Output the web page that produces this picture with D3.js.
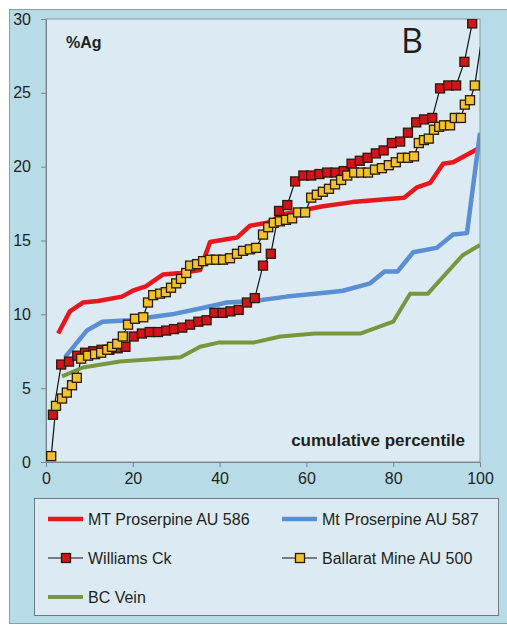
<!DOCTYPE html>
<html>
<head>
<meta charset="utf-8">
<script src="https://cdn.jsdelivr.net/npm/d3@7"></script>
<style>
  body { margin: 0; background: #fff; }
  text { font-family: "Liberation Sans", Arial, sans-serif; fill: #1f1f1f; }
</style>
</head>
<body>
<svg id="chart"></svg>
<script>
// cumulative percentile (x) and %Ag (y)
const mt586Pct = [2.8, 5.5, 8.5, 12, 17.5, 20, 23, 27, 31, 35.5, 37.8, 44, 47, 51, 55, 63.5, 70.6, 82.5, 85.5, 88.5, 91.5, 93.8, 98.8, 100];
const mt586Val = [8.7, 10.2, 10.8, 10.9, 11.2, 11.6, 11.9, 12.7, 12.8, 13.0, 14.9, 15.2, 16.0, 16.2, 16.8, 17.3, 17.6, 17.9, 18.6, 18.9, 20.2, 20.3, 21.1, 21.3];

const mt587Pct = [4.4, 9.4, 13, 19.4, 24, 29, 35.5, 41.7, 47.7, 55.5, 65.4, 68.4, 74.7, 78, 81, 84.6, 90, 93.8, 97, 100];
const mt587Val = [7.1, 8.9, 9.5, 9.6, 9.8, 10.0, 10.4, 10.8, 10.9, 11.2, 11.5, 11.6, 12.1, 12.9, 12.9, 14.2, 14.5, 15.4, 15.5, 22.3];

const bcPct = [3.7, 8.5, 17, 31, 35.5, 40, 48, 54, 62, 72.4, 80, 83.9, 88, 96, 100];
const bcVal = [5.8, 6.4, 6.8, 7.1, 7.8, 8.1, 8.1, 8.5, 8.7, 8.7, 9.5, 11.4, 11.4, 14.0, 14.7];

const williamsPct = [1.6, 3.5, 5.3, 7.2, 9.0, 10.9, 12.8, 14.6, 16.5, 18.3, 20.2, 22.1, 23.9, 25.8, 27.7, 29.5, 31.4, 33.2, 35.1, 37.0,
  38.8, 40.7, 42.5, 44.4, 46.3, 48.1, 50.0, 51.8, 53.7, 55.6, 57.4, 59.3, 61.1, 63.0, 64.8, 66.7, 68.6, 70.4, 72.3, 74.1,
  76.0, 77.8, 79.7, 81.6, 83.4, 85.3, 87.1, 89.0, 90.8, 92.7, 94.5, 96.4, 98.2];
const williamsVal = [3.2, 6.6, 6.8, 7.2, 7.4, 7.5, 7.6, 7.6, 7.7, 7.8, 8.5, 8.7, 8.8, 8.8, 8.9, 9.0, 9.1, 9.3, 9.5, 9.6,
  10.1, 10.1, 10.2, 10.3, 10.8, 11.1, 13.3, 14.1, 17.0, 17.4, 19.0, 19.4, 19.4, 19.5, 19.6, 19.6, 19.7, 20.2, 20.4, 20.6,
  20.9, 21.1, 21.6, 21.7, 22.3, 23.0, 23.2, 23.3, 25.3, 25.5, 25.5, 27.1, 29.7];

const ballaratPct = [1.2, 2.3, 3.7, 4.8, 6.0, 7.1, 8.1, 9.7, 11.3, 12.7, 14.1, 15.2, 16.4, 17.7, 18.9, 20.5, 22.4, 23.5, 24.7, 26.3,
  27.6, 28.8, 30.0, 31.1, 32.3, 33.2, 34.8, 36.2, 37.8, 39.2, 40.8, 42.4, 44.0, 45.4, 47.0, 48.4, 50.0, 51.2, 52.5, 53.9,
  55.3, 56.7, 58.1, 59.7, 61.1, 62.4, 63.8, 65.2, 66.6, 68.0, 69.4, 71.0, 72.6, 74.2, 75.8, 77.4, 79.0, 80.6, 82.0, 83.4,
  84.8, 85.9, 87.1, 88.2, 89.4, 90.6, 91.7, 93.1, 94.2, 95.6, 96.5, 97.7, 98.8, 100.8];
const ballaratVal = [0.4, 3.8, 4.3, 4.7, 5.2, 5.7, 7.0, 7.2, 7.3, 7.4, 7.6, 7.8, 8.0, 8.5, 9.3, 9.7, 9.8, 10.8, 11.3, 11.4,
  11.5, 11.8, 12.1, 12.4, 12.8, 13.3, 13.4, 13.6, 13.7, 13.7, 13.7, 13.8, 14.1, 14.3, 14.4, 14.5, 15.4, 15.9, 16.2, 16.3,
  16.4, 16.5, 16.9, 16.9, 17.9, 18.1, 18.3, 18.5, 18.8, 19.1, 19.4, 19.6, 19.6, 19.6, 19.8, 19.9, 20.1, 20.3, 20.6, 20.6,
  20.7, 21.6, 21.8, 21.9, 22.5, 22.7, 22.8, 22.8, 23.3, 23.3, 24.2, 24.5, 25.5, 29.5];

const xTicks = [0, 20, 40, 60, 80, 100];
const yTicks = [0, 5, 10, 15, 20, 25, 30];

const series = [
  { name: "MT Proserpine AU 586", pct: mt586Pct, val: mt586Val, color: "#e8161d", width: 4.5 },
  { name: "Mt Proserpine AU 587", pct: mt587Pct, val: mt587Val, color: "#5b8fd3", width: 4.5 },
  { name: "Williams Ck", pct: williamsPct, val: williamsVal, color: "#111", width: 1.2, marker: "#d4121b" },
  { name: "Ballarat Mine AU 500", pct: ballaratPct, val: ballaratVal, color: "#111", width: 1.2, marker: "#f2c12e" },
  { name: "BC Vein", pct: bcPct, val: bcVal, color: "#77963d", width: 4 }
];

const W = 507, H = 625;
const plot = { left: 46, right: 480, top: 19, bottom: 462 };

const svg = d3.select("#chart").attr("width", W).attr("height", H);

// chart frame
svg.append("rect")
  .attr("x", 9.5).attr("y", 9.5)
  .attr("width", W).attr("height", 614)
  .attr("fill", "#b8dce7").attr("stroke", "#8c9ea5");

// plot area
svg.append("rect")
  .attr("x", plot.left).attr("y", plot.top)
  .attr("width", plot.right - plot.left).attr("height", plot.bottom - plot.top)
  .attr("fill", "#dcebf3").attr("stroke", "#8a959a");

const xScale = d3.scaleLinear().domain([0, 100]).range([plot.left, plot.right]);
const yScale = d3.scaleLinear().domain([0, 30]).range([plot.bottom, plot.top]);

svg.append("defs").append("clipPath").attr("id", "clip")
  .append("rect")
  .attr("x", plot.left).attr("y", plot.top)
  .attr("width", plot.right - plot.left).attr("height", plot.bottom - plot.top);

// axes
const yAxis = svg.append("g")
  .attr("transform", `translate(${plot.left},0)`)
  .call(d3.axisLeft(yScale).tickValues(yTicks).tickSize(5).tickPadding(10));
const xAxis = svg.append("g")
  .attr("transform", `translate(0,${plot.bottom})`)
  .call(d3.axisBottom(xScale).tickValues(xTicks).tickSize(5).tickPadding(6));

[yAxis, xAxis].forEach(g => {
  g.select(".domain").attr("stroke", "#7a8489");
  g.selectAll(".tick line").attr("stroke", "#7a8489");
  g.selectAll(".tick text")
    .style("font-size", "16px")
    .style("font-family", "Liberation Sans, Arial, sans-serif")
    .attr("fill", "#1f1f1f");
});

// series
const lineGen = d3.line()
  .x(d => xScale(d[0]))
  .y(d => yScale(d[1]));

const plotG = svg.append("g").attr("clip-path", "url(#clip)");
const ms = 9;

// draw lines first, markers on top
series.forEach(s => {
  const pts = s.pct.map((p, i) => [p, s.val[i]]);
  plotG.append("path")
    .datum(pts)
    .attr("fill", "none")
    .attr("stroke", s.color)
    .attr("stroke-width", s.width)
    .attr("stroke-linejoin", "round")
    .attr("d", lineGen);
});

series.filter(s => s.marker).forEach(s => {
  const pts = s.pct.map((p, i) => [p, s.val[i]]).filter(d => d[0] <= 100);
  plotG.selectAll(null)
    .data(pts)
    .enter()
    .append("rect")
    .attr("x", d => xScale(d[0]) - ms / 2)
    .attr("y", d => yScale(d[1]) - ms / 2)
    .attr("width", ms).attr("height", ms)
    .attr("fill", s.marker)
    .attr("stroke", "#2a1a0a")
    .attr("stroke-width", 1.3);
});

// labels inside plot
svg.append("text")
  .attr("x", 66).attr("y", 48)
  .style("font-size", "16px").style("font-weight", "bold")
  .text("%Ag");

svg.append("text")
  .attr("x", 401).attr("y", 53)
  .style("font-size", "34px")
  .style("font-family", "Open Sans, sans-serif")
  .text("B");

svg.append("text")
  .attr("x", 465).attr("y", 446)
  .attr("text-anchor", "end")
  .style("font-size", "17px").style("font-weight", "bold")
  .text("cumulative percentile");

// legend
const legend = svg.append("g");
legend.append("rect")
  .attr("x", 34.5).attr("y", 498.5)
  .attr("width", 464).attr("height", 117)
  .attr("fill", "#dcebf3").attr("stroke", "#6f7b80");

const legendPos = [
  { x: 48, y: 519 }, { x: 282, y: 519 },
  { x: 48, y: 558 }, { x: 282, y: 558 },
  { x: 48, y: 597 }
];

series.forEach((s, i) => {
  const p = legendPos[i];
  const item = legend.append("g").attr("transform", `translate(${p.x},${p.y})`);
  item.append("line")
    .attr("x1", 0).attr("x2", 35)
    .attr("stroke", s.color).attr("stroke-width", s.width);
  if (s.marker) {
    item.append("rect")
      .attr("x", 18 - ms / 2).attr("y", -ms / 2)
      .attr("width", ms).attr("height", ms)
      .attr("fill", s.marker).attr("stroke", "#2a1a0a").attr("stroke-width", 1.3);
  }
  item.append("text")
    .attr("x", 40).attr("y", 6)
    .style("font-size", "16px")
    .text(s.name);
});
</script>
</body>
</html>
